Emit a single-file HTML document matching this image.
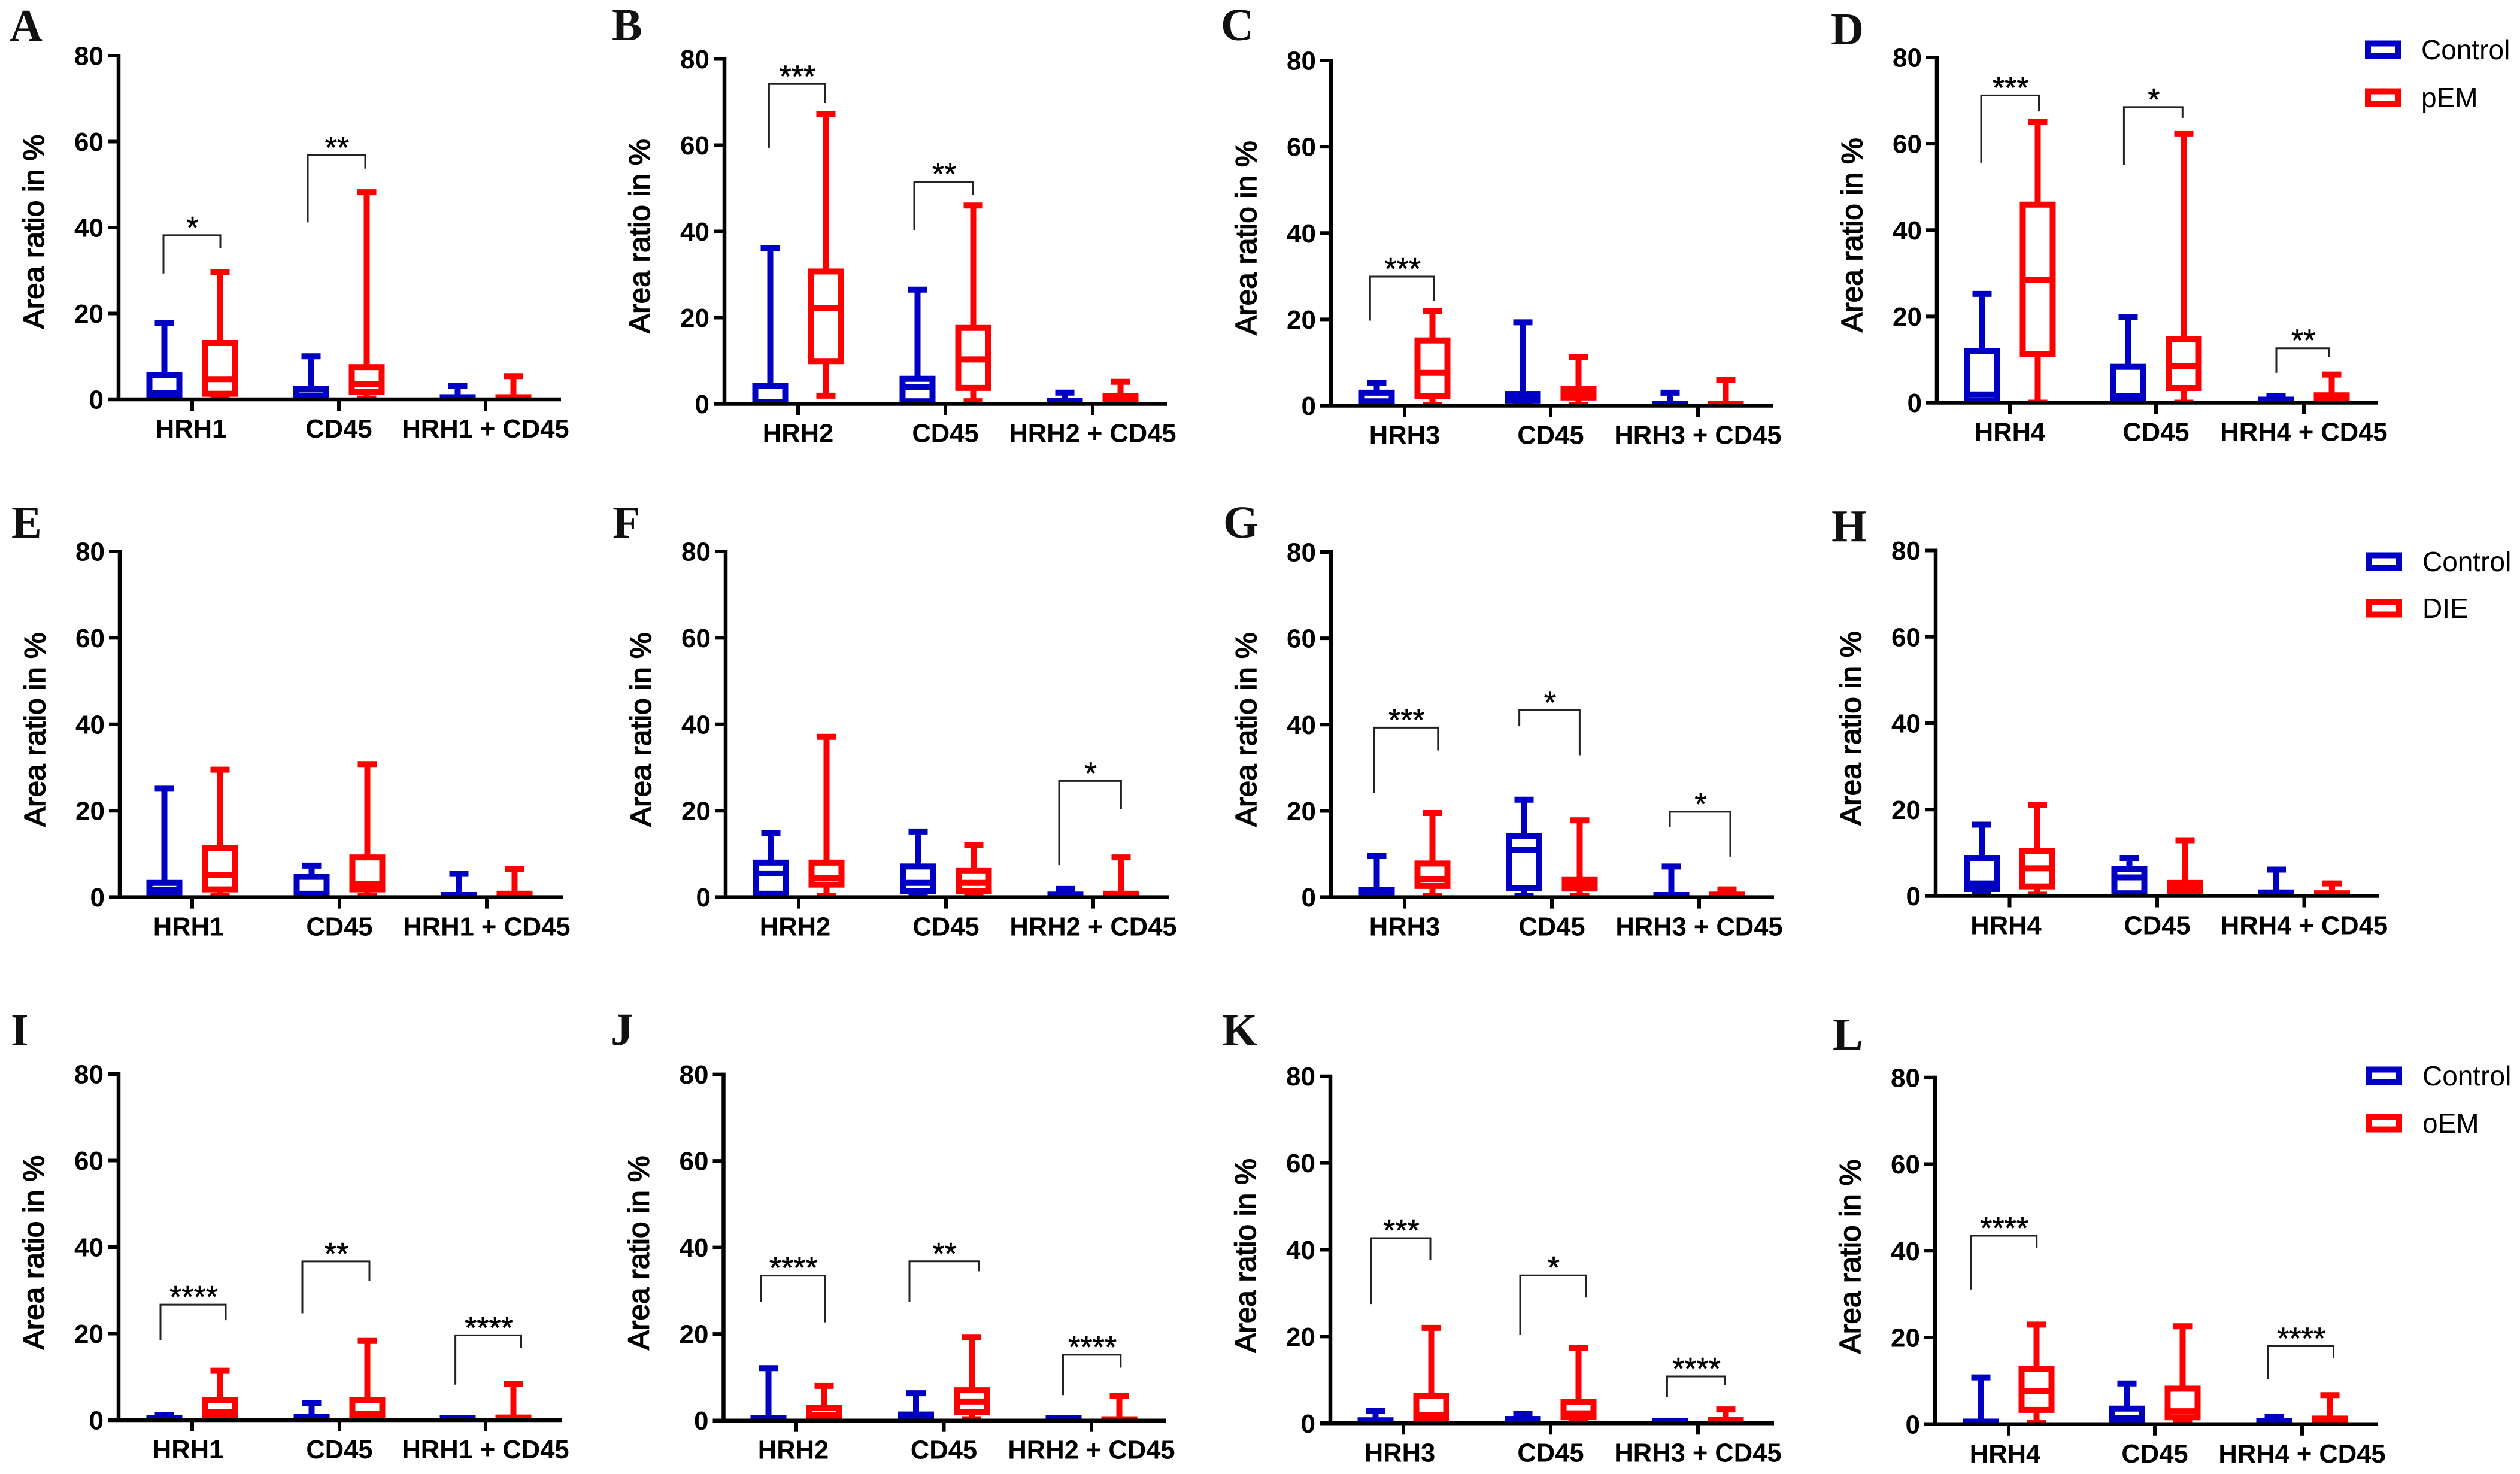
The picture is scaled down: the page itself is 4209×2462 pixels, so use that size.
<!DOCTYPE html>
<html lang="en">
<head>
<meta charset="utf-8">
<title>Area ratio box plots</title>
<style>
html,body{margin:0;padding:0;background:#fff;}
#figure{display:block;width:4209px;height:2462px;background:#fff;}
text{font-family:"Liberation Sans",Arial,sans-serif;fill:#000;}
.letter{font-family:"Liberation Serif",serif;font-weight:bold;font-size:76px;fill:#111;}
.ytick,.xcat{font-weight:bold;}
.ytick{font-size:44px;}
.xcat{font-size:43.5px;}
.ytitle{font-size:49.5px;stroke:#000;stroke-width:1.5px;}
.stars{font-size:52px;stroke:#000;stroke-width:.6px;}
.legend-text{font-size:46px;}
</style>
</head>
<body>
<svg id="figure" xmlns="http://www.w3.org/2000/svg" width="4209" height="2462" viewBox="0 0 4209 2462"></svg>
<script>
// ---- chart values: every box is [whiskerHigh, q3, median, q1, whiskerLow] ----
const tickLabels = [0, 20, 40, 60, 80];
const yTitle = 'Area ratio in %';
const panelIds = ['A','B','C','D','E','F','G','H','I','J','K','L'];
const categoriesA = ['HRH1','CD45','HRH1 + CD45'];
const categoriesB = ['HRH2','CD45','HRH2 + CD45'];
const categoriesC = ['HRH3','CD45','HRH3 + CD45'];
const categoriesD = ['HRH4','CD45','HRH4 + CD45'];
const panelCategories = [categoriesA,categoriesB,categoriesC,categoriesD,categoriesA,categoriesB,categoriesC,categoriesD,categoriesA,categoriesB,categoriesC,categoriesD];

const controlA = [[17.8,5.6,1.4,.4,0],[10,2.4,.9,.3,0],[3.2,.5,.1,0,0]];
const treatedA = [[29.6,13.1,4.7,1.3,.3],[48.2,7.5,3.6,1.8,.2],[5.4,.5,.1,0,0]];
const controlB = [[36.1,4.2,.4,.3,0],[26.5,5.8,3.9,.6,0],[2.6,.7,.1,0,0]];
const treatedB = [[67.3,30.7,22.3,9.9,1.9],[46,17.6,10.3,3.7,.6],[5.1,1.8,.8,.2,0]];
const controlC = [[5.2,3,1,.6,0],[19.3,2.7,2,1.2,0],[3,.4,.1,0,0]];
const treatedC = [[21.9,15.1,7.6,2.2,.2],[11.3,3.9,2.6,1.9,.2],[5.9,.4,.1,0,0]];
const controlD = [[25.2,12,1.9,.5,0],[19.8,8.3,1.6,1.1,.2],[1.5,.7,.1,0,0]];
const treatedD = [[65.1,45.9,28.4,11.2,0],[62.4,14.7,8.4,3.4,0],[6.5,1.7,.8,.2,0]];
const controlE = [[25.1,3.3,1.6,.3,0],[7.3,4.7,.8,.3,0],[5.4,.5,.1,0,0]];
const treatedE = [[29.5,11.4,5.2,1.8,.3],[30.8,9.2,3,1.8,.3],[6.6,.8,.2,0,0]];
const controlF = [[14.8,8,5.5,.8,0],[15.2,7.1,3.3,1.4,.2],[1.9,.6,.1,0,0]];
const treatedF = [[37.1,8,4.4,2.9,.3],[12,6.2,3.3,1.4,.3],[9.2,.8,.2,0,0]];
const controlG = [[9.6,1.7,.8,.2,0],[22.6,14.1,11,2.1,.3],[7.1,.5,.1,0,0]];
const treatedG = [[19.5,7.8,4.2,2.6,.3],[17.8,4,2.8,2,.3],[1.8,.6,.1,0,0]];
const controlH = [[16.5,8.8,2.9,1.6,.4],[8.8,6.3,4.3,.6,0],[6.1,.8,.2,0,0]];
const treatedH = [[21,10.4,6.4,2.2,.3],[12.9,3,1.9,.8,.2],[2.9,.6,.1,0,0]];
const controlI = [[1.2,.5,.1,0,0],[4,.7,.1,0,0],[.5,.5,.1,0,0]];
const treatedI = [[11.4,4.6,1.8,.7,.2],[18.3,4.7,1.5,1.1,.2],[8.4,.6,.1,0,0]];
const controlJ = [[12.1,.6,.1,0,0],[6.3,1.4,.5,.1,0],[.6,.6,.1,0,0]];
const treatedJ = [[8,3,1.2,.5,.2],[19.3,7,4.4,2,.3],[5.7,.3,.1,0,0]];
const controlK = [[2.8,.7,.1,0,0],[2.2,1,.2,0,0],[.6,.6,.1,0,0]];
const treatedK = [[22,6.3,1.9,1.2,.3],[17.4,4.9,2.3,1.4,.3],[3.2,.8,.2,0,0]];
const controlL = [[10.8,.6,.1,0,0],[9.4,3.6,1.5,1,.2],[1.7,.7,.1,0,0]];
const treatedL = [[23,12.7,7.6,3.3,.3],[22.6,8.2,3,1.6,.3],[6.7,1.3,.5,.2,.2]];
const panelControl = [controlA,controlB,controlC,controlD,controlE,controlF,controlG,controlH,controlI,controlJ,controlK,controlL];
const panelTreated = [treatedA,treatedB,treatedC,treatedD,treatedE,treatedF,treatedG,treatedH,treatedI,treatedJ,treatedK,treatedL];

// significance brackets: [categoryIndex, leftValue, topValue, rightValue, stars]
const bracketsA = [[0,29.3,38.2,35.2,'*'],[1,41.2,56.8,53.7,'**']];
const bracketsB = [[0,59.4,74.2,69.8,'***'],[1,40.2,51.5,48.5,'**']];
const bracketsC = [[0,19.7,29.9,24.3,'***']];
const bracketsD = [[0,55.6,71.2,67.5,'***'],[1,55.1,68.5,66,'*'],[2,6.9,12.6,10.5,'**']];
const bracketsE = [];
const bracketsF = [[2,7.4,26.9,20.4,'*']];
const bracketsG = [[0,24.1,39.3,34,'***'],[1,39.6,43.3,32.9,'*'],[2,16.3,19.8,9.4,'*']];
const bracketsH = [];
const bracketsI = [[0,18.4,26.7,23.1,'****'],[1,24.7,36.7,32.2,'**'],[2,8.2,19.6,16.7,'****']];
const bracketsJ = [[0,27.4,33.5,22.7,'****'],[1,27.4,36.8,34.5,'**'],[2,5.9,15.2,12.2,'****']];
const bracketsK = [[0,27.5,42.7,37.6,'***'],[1,20.4,34.1,29,'*'],[2,6,10.8,8.8,'****']];
const bracketsL = [[0,31.1,43.5,40.7,'****'],[2,10.4,18,15.2,'****']];
const panelBrackets = [bracketsA,bracketsB,bracketsC,bracketsD,bracketsE,bracketsF,bracketsG,bracketsH,bracketsI,bracketsJ,bracketsK,bracketsL];

// legend series names by row
const legendSeries = [['Control','pEM'],['Control','DIE'],['Control','oEM']];

// ---- layout (not data) ----
const layoutAxisX  = [198,1210,2223,3235,200,1212,2223,3233,198,1208.5,2222,3232];
const layoutTopY   = [93,98.5,101,96,921,921,922,919.5,1794,1794.6,1797.7,1799.8];
const layoutZeroY  = [667,674.5,677.5,672.5,1498.6,1498.6,1498.6,1496.5,2372,2372.7,2377.3,2378.8];
const layoutRightX = [937,1950,2962,3971,941,1953,2963,3974,939,1948,2963,3972];
const layoutTickX  = [[321,566,811],[1333,1579,1825],[2346,2590,2836],[3357,3601,3848],[321,567,813],[1334,1580,1826],[2346,2592,2838],[3356.5,3603,3848.5],[321,567,811],[1330,1576.5,1823],[2344,2590,2836],[3355,3599,3845]];
const layoutFirstLabelShift = [-2,0,0,0,-6,-6,0,-6,-7,-5,-6,-6];
const layoutLetterPos = [[16,68],[1022,67],[2039,67],[3058,74],[19,898],[1023,898],[2043,898],[3059,904],[18,1746],[1020,1745],[2041,1746],[3061,1753]];
// bracket arm offsets from the category tick, in the same order as the bracket arrays
const layoutBracketDx = [[[-48,47],[-52,44]],[[-48.6,44.5],[-52,46]],[[-57.7,49.4]],[[-48,48.5],[-53.6,44.3],[-46,42.5]],[],[[-57,46.4]],[[-51.4,55.8],[-54.4,46.4],[-49,52]],[],[[-53,56],[-62,50],[-50.4,59.5]],[[-59,47.6],[-57.5,58],[-47.5,48.8]],[[-54,45],[-51,59],[-51.6,44.7]],[[-63.5,46.7],[-57,52.5]]];
const layoutLegend = [[3950,83,163,4044],[3952,938,1016,4046],[3952,1797,1876,4046]];
const BLUE = '#0000c4', RED = '#ff0000';
const BOX_W = 50, CAP_W = 32, STROKE = 10, OFFSET = 46.5, MAX_VALUE = 80;

const NS = 'http://www.w3.org/2000/svg';
const root = document.getElementById('figure');

function make(tag, parent, attrs, text) {
  const node = document.createElementNS(NS, tag);
  for (const k in attrs) node.setAttribute(k, attrs[k]);
  if (text !== undefined) node.textContent = text;
  parent.appendChild(node);
  return node;
}
function yAxisFn(p) {
  const y0 = layoutZeroY[p], y80 = layoutTopY[p];
  return v => y0 - (v / MAX_VALUE) * (y0 - y80);
}
function xAxisFn(p) {
  return (cat, offset) => layoutTickX[p][cat] + offset;
}

function drawBox(group, vals, cx, y, color, name) {
  const hi = vals[0], q3 = vals[1], med = vals[2], q1 = vals[3], lo = vals[4];
  const common = {stroke: color, 'stroke-width': STROKE, fill: 'none'};
  let el;
  el = make('line', group, Object.assign({x1: cx, x2: cx, y1: y(hi), y2: y(q3)}, common));
  
  
  el = make('line', group, Object.assign({x1: cx - CAP_W / 2, x2: cx + CAP_W / 2, y1: y(hi), y2: y(hi)}, common));
  
  
  el = make('line', group, Object.assign({x1: cx, x2: cx, y1: y(q1), y2: y(lo)}, common));
  
  
  el = make('line', group, Object.assign({x1: cx - CAP_W / 2, x2: cx + CAP_W / 2, y1: y(lo), y2: y(lo)}, common));
  
  
  el = make('rect', group, Object.assign({x: cx - BOX_W / 2, y: y(q3), width: BOX_W, height: y(q1) - y(q3)}, common));
  
  
  el = make('line', group, Object.assign({x1: cx - BOX_W / 2, x2: cx + BOX_W / 2, y1: y(med), y2: y(med)}, common));
  
  
}

panelIds.forEach((id, p) => {
  const y = yAxisFn(p), x = xAxisFn(p);
  const axisX = layoutAxisX[p], y0 = layoutZeroY[p], y80 = layoutTopY[p], right = layoutRightX[p];
  const key = id.toLowerCase();
  const panel = make('g', root, {});
  
  

  const letter = make('text', panel, {x: layoutLetterPos[p][0], y: layoutLetterPos[p][1], class: 'letter'}, id);
  
  

  const clip = make('clipPath', panel, {id: 'clip-' + key});
  make('rect', clip, {x: axisX, y: y80 - 60, width: right - axisX + 20, height: y0 - y80 + 60});

  const marks = make('g', panel, {'clip-path': 'url(#clip-' + key + ')'});
  
  
  panelCategories[p].forEach((cat, c) => {
    drawBox(marks, panelControl[p][c], x(c, -OFFSET), y, BLUE, 'control-' + key + '-' + c);
    drawBox(marks, panelTreated[p][c], x(c, OFFSET), y, RED, 'treated-' + key + '-' + c);
  });

  // axes
  const yLine = make('line', panel, {x1: axisX, x2: axisX, y1: y80 - 3, y2: y0 + 3, stroke: '#000', 'stroke-width': 6.5});
  
  
  const xLine = make('line', panel, {x1: axisX - 18, x2: right, y1: y0, y2: y0, stroke: '#000', 'stroke-width': 6.5});
  
  

  tickLabels.forEach(t => {
    const tick = make('line', panel, {x1: axisX - 18, x2: axisX, y1: y(t), y2: y(t), stroke: '#000', 'stroke-width': 6});
    
    
    const label = make('text', panel, {x: axisX - 25, y: y(t) + 15.5, 'text-anchor': 'end', class: 'ytick'}, String(t));
    
    
  });

  panelCategories[p].forEach((cat, c) => {
    const tick = make('line', panel, {x1: x(c, 0), x2: x(c, 0), y1: y0, y2: y0 + 19, stroke: '#000', 'stroke-width': 6});
    
    
    const shift = c === 0 ? layoutFirstLabelShift[p] : 0;
    const label = make('text', panel, {x: x(c, shift), y: y0 + 64, 'text-anchor': 'middle', class: 'xcat'}, cat);
    
    
  });

  const tx = axisX - 125, ty = y0 - 280;
  const title = make('text', panel, {x: tx, y: ty, 'text-anchor': 'middle', class: 'ytitle', transform: 'rotate(-90 ' + tx + ' ' + ty + ')'}, yTitle);
  
  

  panelBrackets[p].forEach((b, i) => {
    const c = b[0], dx = layoutBracketDx[p][i];
    const xl = x(c, dx[0]), xr = x(c, dx[1]);
    const d = 'M' + xl + ' ' + y(b[1]) + ' V' + y(b[2]) + ' H' + xr + ' V' + y(b[3]);
    const path = make('path', panel, {d: d, fill: 'none', stroke: '#222', 'stroke-width': 3});
    
    
    const stars = make('text', panel, {x: (xl + xr) / 2 + 1, y: y(b[2]) + 5, 'text-anchor': 'middle', class: 'stars'}, b[4]);
    
    
  });
});

legendSeries.forEach((names, row) => {
  const pos = layoutLegend[row];
  const legend = make('g', root, {});
  
  
  names.forEach((label, i) => {
    const cy = pos[1 + i], color = i === 0 ? BLUE : RED;
    const swatch = make('rect', legend, {x: pos[0] + 5, y: cy - 10.5, width: 50, height: 21, fill: 'none', stroke: color, 'stroke-width': 10});
    
    
    const text = make('text', legend, {x: pos[3], y: cy + 16, class: 'legend-text'}, label);
    
    
  });
});
</script>
</body>
</html>
